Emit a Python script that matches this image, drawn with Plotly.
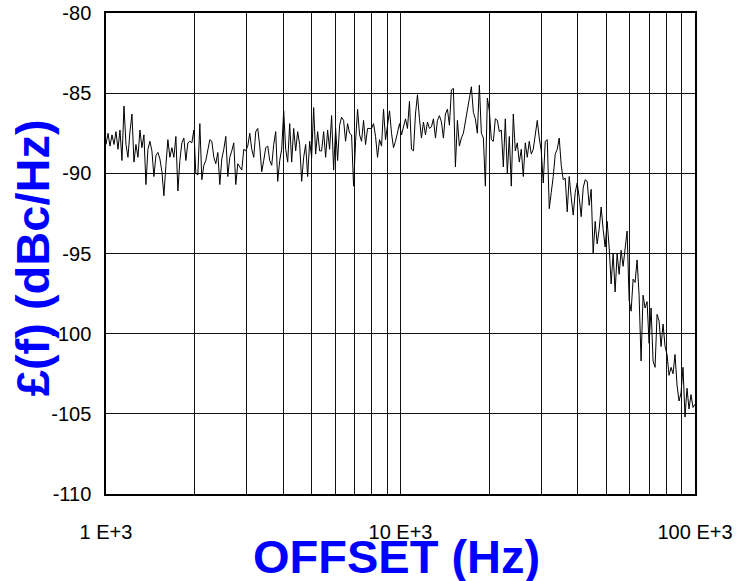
import numpy as np
import plotly.graph_objects as go

# Sweep: 1 kHz to 100 kHz offset, log-spaced analyser points
FREQ_START = 1e3
FREQ_STOP = 1e5

# Phase noise L(f) in dBc/Hz (left to right)
phase_noise = [
    -88.2, -87.5, -88.3, -87.6, -88.2, -87.4, -88.5, -87.3, -89.2, -85.8,
    -88.2, -89.0, -87.4, -86.3, -89.3, -88.2, -89.0, -87.3, -88.4, -87.6,
    -90.7, -88.5, -88.0, -88.6, -90.2, -88.9, -88.7, -89.1, -89.9, -91.4,
    -89.5, -87.9, -89.0, -88.4, -89.0, -87.7, -91.1, -89.2, -88.1, -87.8,
    -89.2, -88.1, -88.0, -88.1, -87.3, -90.0, -90.1, -86.9, -90.4, -89.5,
    -89.2, -88.5, -87.9, -88.0, -89.0, -89.4, -88.7, -90.7, -89.1, -88.5,
    -87.7, -90.2, -89.0, -88.6, -88.1, -90.7, -89.4, -89.6, -89.8, -88.5,
    -88.6, -88.3, -87.5, -88.5, -89.0, -87.4, -87.2, -88.3, -89.9, -89.2,
    -88.4, -88.3, -89.2, -89.5, -88.2, -87.4, -90.5, -89.2, -88.5, -86.1,
    -88.5, -89.3, -86.9, -89.3, -87.2, -88.6, -87.4, -88.2, -90.5, -89.0,
    -88.2, -90.2, -88.0, -89.0, -85.9, -88.8, -87.4, -88.6, -88.6, -87.4,
    -89.0, -87.3, -88.5, -86.4, -89.8, -87.2, -89.2, -87.0, -86.5, -86.7,
    -88.0, -86.9, -87.5, -87.6, -90.8, -88.0, -86.0, -87.6, -88.0, -86.7,
    -88.2, -87.2, -87.2, -87.2, -86.9, -87.7, -89.0, -87.9, -88.3, -86.0,
    -87.9, -86.8, -86.1, -87.5, -88.4, -88.0, -87.5, -86.9, -87.6, -87.1,
    -86.6, -87.2, -85.5, -88.5, -88.6, -86.3, -85.1, -86.6, -87.8, -86.8,
    -87.6, -86.8, -87.2, -87.1, -86.6, -87.8, -86.7, -86.4, -86.8, -87.8,
    -86.3, -86.0, -87.0, -84.8, -84.7, -89.6, -86.7, -88.3, -87.8, -87.5,
    -86.7, -85.9, -85.4, -84.6, -86.2, -86.6, -87.5, -84.5, -87.5, -87.8,
    -90.8, -85.3, -86.1, -87.9, -88.0, -86.6, -86.7, -87.4, -87.3, -89.6,
    -86.6, -90.0, -87.7, -90.8, -86.3, -88.6, -88.1, -89.3, -88.5, -90.2,
    -88.1, -89.0, -88.0, -88.8, -88.5, -87.4, -86.7, -87.8, -88.6, -90.6,
    -88.0, -87.9, -92.2, -91.2, -90.2, -88.8, -88.5, -87.8, -89.5, -90.4,
    -90.3, -92.4, -90.2, -91.5, -92.6, -91.2, -90.6, -91.5, -92.7, -90.9,
    -90.4, -90.5, -92.0, -91.0, -95.0, -93.0, -94.4, -93.5, -92.1, -93.5,
    -94.6, -93.0, -94.6, -96.9, -95.0, -97.4, -95.0, -96.3, -94.8, -95.8,
    -94.8, -93.6, -97.9, -98.6, -96.6, -96.8, -95.4, -97.6, -101.7, -97.6,
    -98.4, -98.0, -100.6, -98.4, -101.7, -102.1, -98.8, -99.2, -100.8, -99.4,
    -100.8, -101.3, -102.6, -102.1, -102.5, -101.3, -103.2, -104.2, -103.7, -102.1,
    -105.2, -103.4, -104.7, -103.8, -104.6, -104.4,
]

# Axis ticks and labels
x_tickvals = [1e3, 2e3, 3e3, 4e3, 5e3, 6e3, 7e3, 8e3, 9e3,
              1e4, 2e4, 3e4, 4e4, 5e4, 6e4, 7e4, 8e4, 9e4, 1e5]
x_ticktext = ["1 E+3", "", "", "", "", "", "", "", "",
              "10 E+3", "", "", "", "", "", "", "", "", "100 E+3"]
y_tickvals = [-110, -105, -100, -95, -90, -85, -80]
y_ticktext = ["-110", "-105", "-100", "-95", "-90", "-85", "-80"]

x_title = "OFFSET (Hz)"
y_title = "£(f) (dBc/Hz)"

freq = np.geomspace(FREQ_START, FREQ_STOP, len(phase_noise))

tick_font = dict(family="Liberation Sans, Arial", size=20, color="black")

fig = go.Figure()
fig.add_trace(go.Scatter(x=freq, y=phase_noise, mode="lines",
                         line=dict(color="black", width=1), showlegend=False))

fig.update_xaxes(type="log", range=[3, 5], tickvals=x_tickvals, ticktext=x_ticktext,
                 showgrid=True, gridcolor="#111111", gridwidth=1,
                 showline=True, linecolor="black", linewidth=1.5, mirror=True,
                 ticks="", tickfont=tick_font, ticklabelstandoff=19, zeroline=False)
fig.update_yaxes(range=[-110, -80], tickvals=y_tickvals, ticktext=y_ticktext,
                 showgrid=True, gridcolor="#111111", gridwidth=1,
                 showline=True, linecolor="black", linewidth=1.5, mirror=True,
                 ticks="", tickfont=tick_font, ticklabelstandoff=9, zeroline=False)

fig.add_annotation(text="<b>" + x_title + "</b>", xref="paper", yref="paper",
                   x=0.494, y=-0.129, xanchor="center", yanchor="middle",
                   showarrow=False,
                   font=dict(family="Liberation Sans, Arial", size=47, color="#0000FF"))
fig.add_annotation(text="<b>" + y_title + "</b>", xref="paper", yref="paper",
                   x=-0.125, y=0.491, xanchor="center", yanchor="middle",
                   textangle=-90, showarrow=False,
                   font=dict(family="Liberation Sans, Arial", size=47, color="#0000FF"))

fig.update_layout(width=743, height=581, plot_bgcolor="white", paper_bgcolor="white",
                  margin=dict(l=106, r=48, t=13, b=87, autoexpand=False))

# remove the page's default body margin so the figure fills the window exactly
fig.write_html("out.html", config={"displayModeBar": False},
               post_script="document.body.style.margin='0';document.body.style.overflow='hidden';")
